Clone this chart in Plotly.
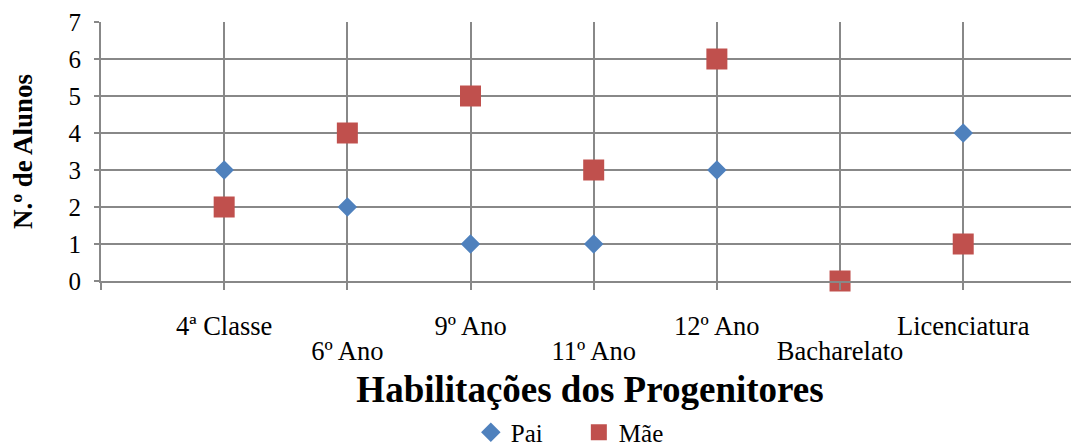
import plotly.graph_objects as go

categories = ["4ª Classe", "6º Ano", "9º Ano", "11º Ano", "12º Ano", "Bacharelato", "Licenciatura"]
pai = [3, 2, 1, 1, 3, 0, 4]
mae = [2, 4, 5, 3, 6, 0, 1]
y_ticks = [0, 1, 2, 3, 4, 5, 6, 7]

xpos = list(range(len(categories)))
even_pos = [p for p in xpos if p % 2 == 0]

SERIF = "Liberation Serif, Times New Roman, serif"
GRID = "#888888"
XRANGE = [-1, 6.94]

fig = go.Figure()
fig.add_trace(go.Scatter(x=xpos, y=pai, mode="markers", name="Pai",
                         marker=dict(symbol="diamond", size=15, color="#4F81BD"),
                         cliponaxis=False))
fig.add_trace(go.Scatter(x=xpos, y=mae, mode="markers", name="Mãe", xaxis="x2",
                         marker=dict(symbol="square", size=21, color="#C0504D"),
                         cliponaxis=False))

fig.update_layout(
    width=1071, height=440,
    margin=dict(l=93, r=0, t=14, b=167),
    paper_bgcolor="white", plot_bgcolor="white",
    font=dict(family=SERIF, color="black", size=25),
    showlegend=True,
    legend=dict(orientation="h", xref="container", x=0.533, xanchor="center",
                yref="container", y=0.035, yanchor="middle",
                font=dict(size=25, family=SERIF), itemwidth=30, tracegroupgap=0,
                entrywidth=63),
    xaxis=dict(range=XRANGE, tickvals=even_pos,
               ticktext=[categories[p] for p in even_pos], tickangle=0,
               showgrid=False,
               ticks="", showline=True, linecolor=GRID, linewidth=2,
               zeroline=False, tickfont=dict(size=26.5, family=SERIF),
               ticklabelstandoff=20, automargin=False,
               title=dict(text="<b>Habilitações dos Progenitores</b>",
                          font=dict(size=37, family=SERIF), standoff=75)),
    xaxis2=dict(range=XRANGE, overlaying="x", side="bottom", anchor="y", matches="x",
                tickvals=[-1] + xpos,
                ticktext=[""] + ["" if p % 2 == 0 else categories[p] for p in xpos],
                tickangle=0, showgrid=True, gridcolor=GRID, gridwidth=2,
                ticks="outside", ticklen=8, tickwidth=2, tickcolor=GRID,
                showline=False, zeroline=False,
                tickfont=dict(size=26.5, family=SERIF),
                ticklabelstandoff=38, automargin=False),
    yaxis=dict(range=[0, 7], tickvals=y_ticks, showgrid=True, gridcolor=GRID, gridwidth=2,
               ticks="outside", ticklen=5, tickwidth=2, tickcolor=GRID,
               showline=True, linecolor=GRID, linewidth=2, zeroline=False,
               tickfont=dict(size=25, family=SERIF), ticklabelstandoff=8,
               automargin=False,
               title=dict(text="<b>N.º de Alunos</b>", font=dict(size=27, family=SERIF), standoff=30)),
)

fig.write_html("out.html")
